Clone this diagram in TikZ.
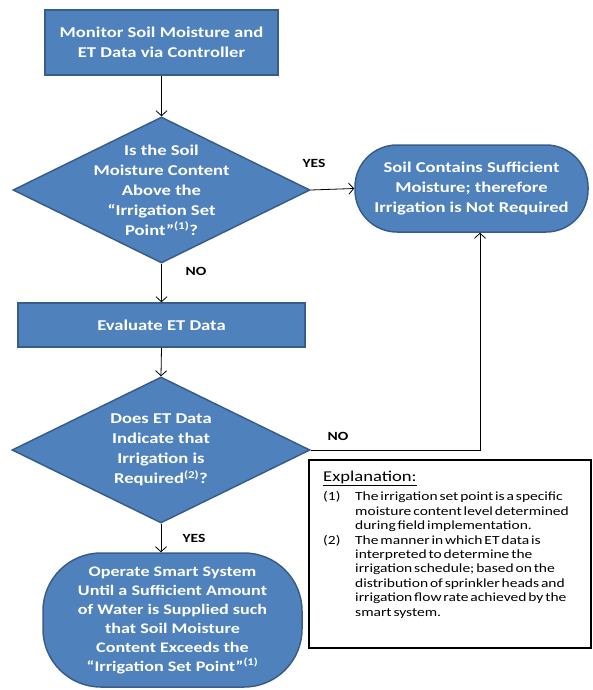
\documentclass[tikz,border=0pt]{standalone}
\usepackage{fontspec}
\setmainfont{Carlito}[FakeStretch=1.24]
\usetikzlibrary{arrows.meta,shapes.geometric}
\definecolor{fillblue}{HTML}{4F81BD}
\definecolor{edgeblue}{HTML}{385D8A}
\newcommand{\tightsp}{\spaceskip=0.15em\relax}
\tikzset{
  x=1pt, y=-1pt,
  flowbox/.style={draw=edgeblue, fill=fillblue, line width=1.5pt, inner sep=0pt},
  wtext/.style={text=white, font=\bfseries\fontsize{15}{20}\selectfont, align=center, inner sep=0pt},
  lbl/.style={font=\bfseries\fontsize{12.5}{15}\selectfont, inner sep=0pt},
  conn/.style={draw=black, line width=0.8pt, -{Straight Barb[length=5pt,width=11pt]}},
}
\begin{document}
\begin{tikzpicture}
\useasboundingbox (0,0) rectangle (592,690);
% top box
\node[flowbox, rectangle, minimum width=233pt, minimum height=65pt] (mon) at (161.5,42.5) {};
\node[wtext] (mont) at (mon.center) {Monitor Soil Moisture and\\ET Data via Controller};
% diamond 1
\node[flowbox, diamond, minimum width=297pt, minimum height=146pt] (d1) at (161.5,190) {};
\node[wtext] (d1t) at (161.5,190) {Is the Soil\\Moisture Content\\Above the\\``Irrigation Set\\Point''\textsuperscript{(1)}?};
% soil contains
\node[flowbox, rectangle, rounded corners=42pt, minimum width=233pt, minimum height=87pt] (soil) at (471.5,188.5) {};
\node[wtext] (soilt) at (soil.center) {Soil Contains Sufficient\\Moisture; therefore\\Irrigation is Not Required};
% evaluate
\node[flowbox, rectangle, minimum width=287pt, minimum height=44pt] (eval) at (161.5,325) {};
\node[wtext] (evalt) at (eval.center) {Evaluate ET Data};
% diamond 2
\node[flowbox, diamond, minimum width=298pt, minimum height=146pt] (d2) at (161,450) {};
\node[wtext] (d2t) at (161,450) {Does ET Data\\Indicate that\\Irrigation is\\Required\textsuperscript{(2)}?};
% operate
\node[flowbox, rectangle, rounded corners=58pt, minimum width=259pt, minimum height=134pt] (op) at (172.5,620) {};
\node[wtext, font=\bfseries\fontsize{14.6}{19}\selectfont] (opt) at (op.center) {Operate Smart System\\Until a Sufficient Amount\\of Water is Supplied such\\that Soil Moisture\\Content Exceeds the\\``Irrigation Set Point''\textsuperscript{(1)}};
% explanation
\node[draw=black, line width=1.3pt, rectangle, minimum width=282pt, minimum height=188pt, inner sep=0pt] (expl) at (450,554) {};
\node[anchor=west, inner sep=0pt, font=\fontsize{15}{18}\selectfont] (explh) at (323,478) {\underline{Explanation:}};
\node[anchor=north west, inner sep=0pt, align=left, font=\fontsize{12.5}{14.4}\selectfont] (explt) at (323,491.5) {%
\tightsp\makebox[32pt][l]{(1)}The irrigation set point is a specific\\
\tightsp\hspace*{32pt}moisture content level determined\\
\tightsp\hspace*{32pt}during field implementation.\\
\tightsp\makebox[32pt][l]{(2)}The manner in which ET data is\\
\tightsp\hspace*{32pt}interpreted to determine the\\
\tightsp\hspace*{32pt}irrigation schedule; based on the\\
\tightsp\hspace*{32pt}distribution of sprinkler heads and\\
\tightsp\hspace*{32pt}irrigation flow rate achieved by the\\
\tightsp\hspace*{32pt}smart system.};
% connectors
\draw[conn] (mon.south) -- (d1.north);
\draw[conn] (d1.east) -- (soil.west);
\draw[conn] (d1.south) -- (eval.north);
\draw[conn] (eval.south) -- (d2.north);
\draw[conn] (d2.east) -| ([xshift=8.5pt]soil.south);
\draw[conn] (d2.south) -- (d2.south |- op.north);
% labels
\node[lbl] (yes1) at (314,163) {YES};
\node[lbl] (no1) at (196,271) {NO};
\node[lbl] (no2) at (338,436) {NO};
\node[lbl] (yes2) at (194,538) {YES};
\end{tikzpicture}
\end{document}
